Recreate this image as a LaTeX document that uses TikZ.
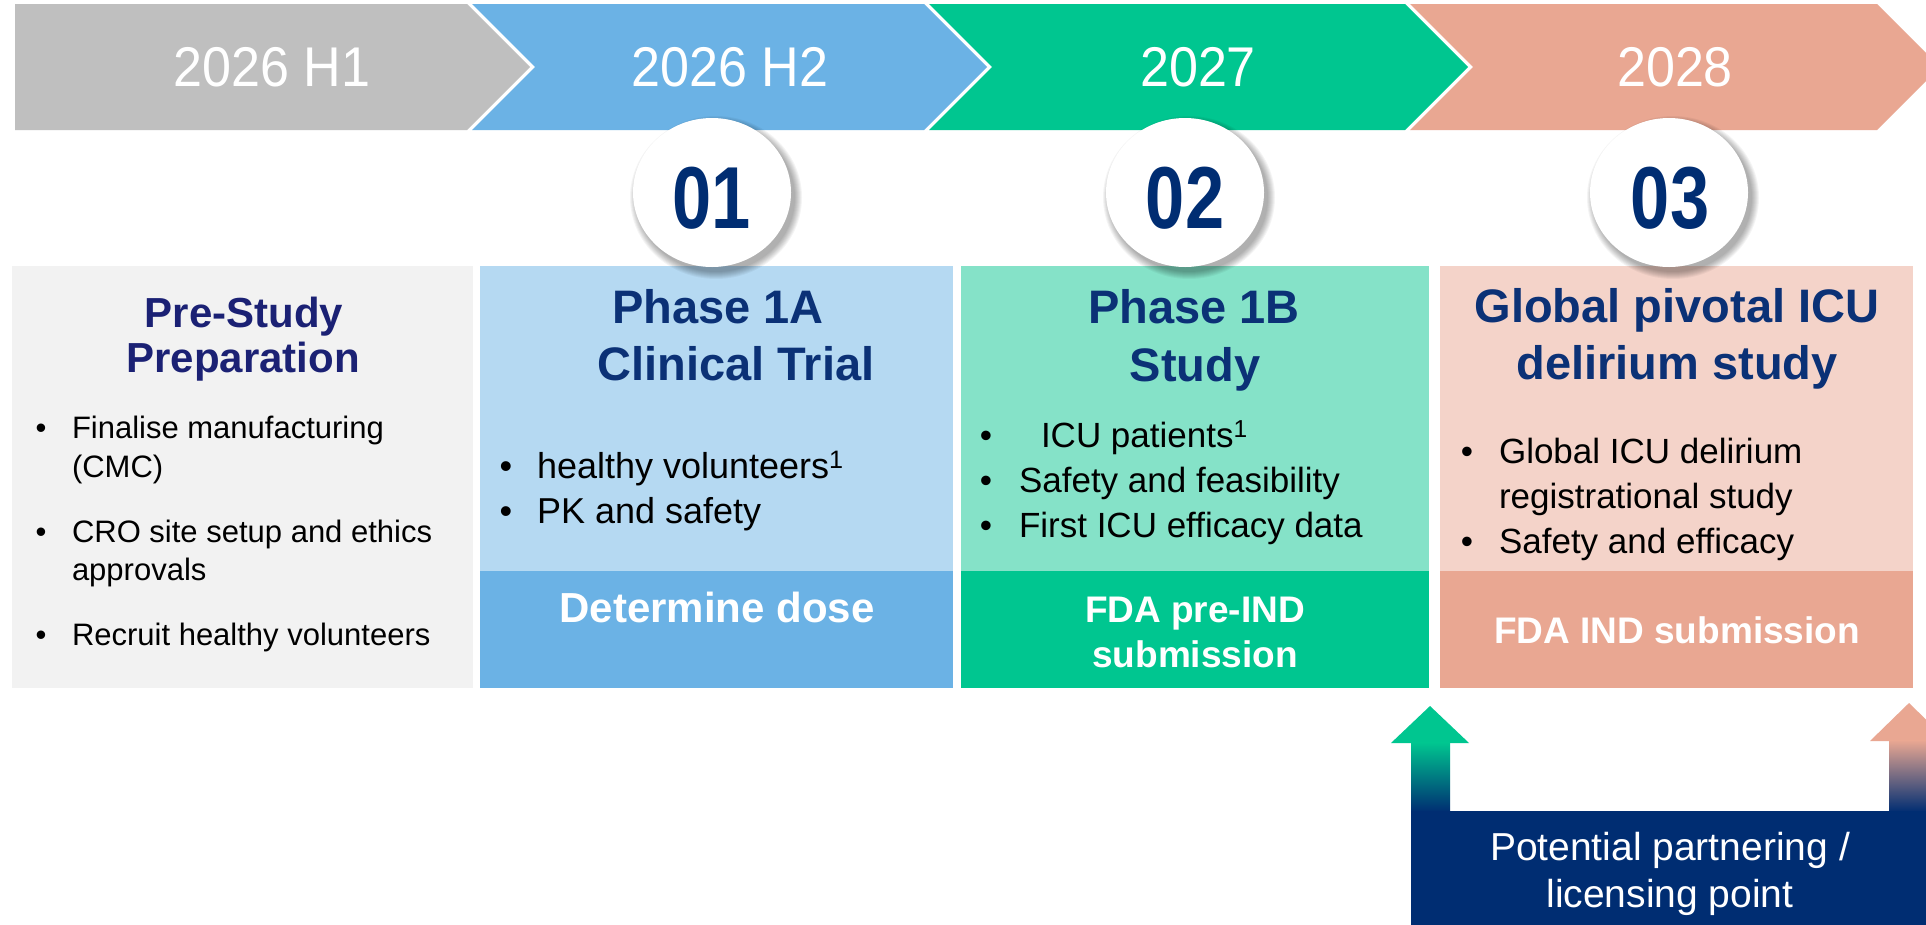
\documentclass[tikz,border=0pt]{standalone}
\usepackage{fontspec}
\setmainfont{Liberation Sans}
\newfontfamily\yearfont[FakeStretch=0.93]{Liberation Sans}
\newfontfamily\numfont[FakeStretch=0.8]{Liberation Sans Bold}
\usetikzlibrary{shapes.geometric}
\definecolor{cgray}{HTML}{BFBFBF}
\definecolor{cblue}{HTML}{6BB2E5}
\definecolor{cgreen}{HTML}{00C690}
\definecolor{csalmon}{HTML}{E9A792}
\definecolor{lgray}{HTML}{F2F2F2}
\definecolor{lblue}{HTML}{B5D9F2}
\definecolor{lgreen}{HTML}{85E2C8}
\definecolor{lsalmon}{HTML}{F4D3C9}
\definecolor{navy}{HTML}{002D72}
\definecolor{titleA}{HTML}{1B2174}
\definecolor{titleB}{HTML}{0B3176}
\begin{document}
\begin{tikzpicture}[x=1pt,y=-1pt,
  txt/.style={inner sep=0pt, outer sep=0pt, anchor=base},
  yeartxt/.style={txt, text=white, font=\yearfont\fontsize{56}{60}\selectfont},
  numtxt/.style={txt, text=navy, font=\numfont\fontsize{88}{90}\selectfont},
  numcirc/.style={ellipse, fill=white, draw=none, minimum width=158pt, minimum height=149pt, inner sep=0pt},
  ttlA/.style={txt, text=titleA, font=\bfseries\fontsize{42}{48}\selectfont},
  ttlB/.style={txt, text=titleB, font=\bfseries\fontsize{47}{56}\selectfont},
  bulA/.style={txt, font=\fontsize{31}{36}\selectfont},
  lineA/.style={bulA, anchor=base west},
  bulB/.style={txt, font=\fontsize{36}{42}\selectfont},
  lineB/.style={bulB, anchor=base west},
  bulC/.style={txt, font=\fontsize{35}{41}\selectfont},
  lineC/.style={bulC, anchor=base west},
  striptxt/.style={txt, text=white, font=\bfseries\fontsize{42}{48}\selectfont},
  striptxtS/.style={txt, text=white, font=\bfseries\fontsize{37}{44}\selectfont},
  bottxt/.style={txt, text=white, font=\fontsize{39}{45}\selectfont}
]
\useasboundingbox (0,0) rectangle (1926,924);
\clip (0,0) rectangle (1926,924);
\fill[white] (0,0) rectangle (1926,924);

% chevrons
\fill[cgray] (15,4) -- (467,4) -- (530,67) -- (467,130) -- (15,130) -- cycle;
\fill[cblue] (472,4) -- (924,4) -- (987,67) -- (924,130) -- (472,130) -- (535,67) -- cycle;
\fill[cgreen] (929,4) -- (1405,4) -- (1468,67) -- (1405,130) -- (929,130) -- (992,67) -- cycle;
\fill[csalmon] (1410,4) -- (1877,4) -- (1940,67) -- (1877,130) -- (1410,130) -- (1473,67) -- cycle;
\node[yeartxt] (y1) at (272,86) {2026 H1};
\node[yeartxt] (y2) at (730,86) {2026 H2};
\node[yeartxt] (y3) at (1198,86) {2027};
\node[yeartxt] (y4) at (1675,86) {2028};

% boxes
\fill[lgray] (12,266) rectangle (473,688);
\fill[lblue] (480,266) rectangle (953,571);
\fill[cblue] (480,571) rectangle (953,688);
\fill[lgreen] (961,266) rectangle (1429,571);
\fill[cgreen] (961,571) rectangle (1429,688);
\fill[lsalmon] (1440,266) rectangle (1913,571);
\fill[csalmon] (1440,571) rectangle (1913,688);

% soft shadows of the number circles (down and to the right)
\foreach \cx in {712,1185,1669}{
  \foreach \r in {7,6,5,4,3,2,1,0}{
    \fill[black, opacity=0.045] (\cx+4,197.5) ellipse [x radius=79pt+\r pt, y radius=74.5pt+\r pt];
  }
}
% number circles
\node[numcirc] (c1) at (712,192.5) {};
\node[numcirc] (c2) at (1185,192.5) {};
\node[numcirc] (c3) at (1669,192.5) {};
\node[numtxt] (n1) at (712,228) {01};
\node[numtxt] (n2) at (1185,228) {02};
\node[numtxt] (n3) at (1670,228) {03};

% box 1
\node[ttlA] (h1a) at (244,327) {Pre-Study};
\node[ttlA] (h1b) at (243,372) {Preparation};
\node[bulA] (b1a) at (41,438) {•};
\node[lineA] (t1a) at (72,438) {Finalise manufacturing};
\node[lineA] (t1b) at (72,477) {(CMC)};
\node[bulA] (b1b) at (41,542) {•};
\node[lineA] (t1c) at (72,542) {CRO site setup and ethics};
\node[lineA] (t1d) at (72,580) {approvals};
\node[bulA] (b1c) at (41,645) {•};
\node[lineA] (t1e) at (72,645) {Recruit healthy volunteers};

% box 2
\node[ttlB] (h2a) at (718,323) {Phase 1A};
\node[ttlB] (h2b) at (736,380) {Clinical Trial};
\node[bulB] (b2a) at (506,478) {•};
\node[lineB] (t2a) at (537,478) {healthy volunteers\textsuperscript{1}};
\node[bulB] (b2b) at (506,523) {•};
\node[lineB] (t2b) at (537,523) {PK and safety};
\node[striptxt] (s2) at (717,622) {Determine dose};

% box 3
\node[ttlB] (h3a) at (1194,323) {Phase 1B};
\node[ttlB] (h3b) at (1195,381) {Study};
\node[bulC] (b3a) at (986,447) {•};
\node[lineC] (t3a) at (1041,447) {ICU patients\textsuperscript{1}};
\node[bulC] (b3b) at (986,492) {•};
\node[lineC] (t3b) at (1019,492) {Safety and feasibility};
\node[bulC] (b3c) at (986,537) {•};
\node[lineC] (t3c) at (1019,537) {First ICU efficacy data};
\node[striptxtS] (s3a) at (1195,622) {FDA pre-IND};
\node[striptxtS] (s3b) at (1195,667) {submission};

% box 4
\node[ttlB] (h4a) at (1677,322) {Global pivotal ICU};
\node[ttlB] (h4b) at (1677,379) {delirium study};
\node[bulC] (b4a) at (1467,463) {•};
\node[lineC] (t4a) at (1499,463) {Global ICU delirium};
\node[lineC] (t4b) at (1499,508) {registrational study};
\node[bulC] (b4b) at (1467,553) {•};
\node[lineC] (t4c) at (1499,553) {Safety and efficacy};
\node[striptxtS] (s4) at (1677,643) {FDA IND submission};

% partnering arrows and box
\fill[cgreen] (1391,743) -- (1430,706) -- (1469,743) -- cycle;
\shade[top color=cgreen, bottom color=navy] (1411,742.5) rectangle (1450,812);
\fill[csalmon] (1870,741) -- (1909,703) -- (1948,741) -- cycle;
\shade[top color=csalmon, bottom color=navy] (1889,740.5) rectangle (1928,812);
\node[fill=navy, anchor=north west, minimum width=516pt, minimum height=115pt, inner sep=0pt, outer sep=0pt] (pbox) at (1411,811) {};
\node[bottxt] (p1) at (1670,860) {Potential partnering /};
\node[bottxt] (p2) at (1670,907) {licensing point};
\end{tikzpicture}
\end{document}
